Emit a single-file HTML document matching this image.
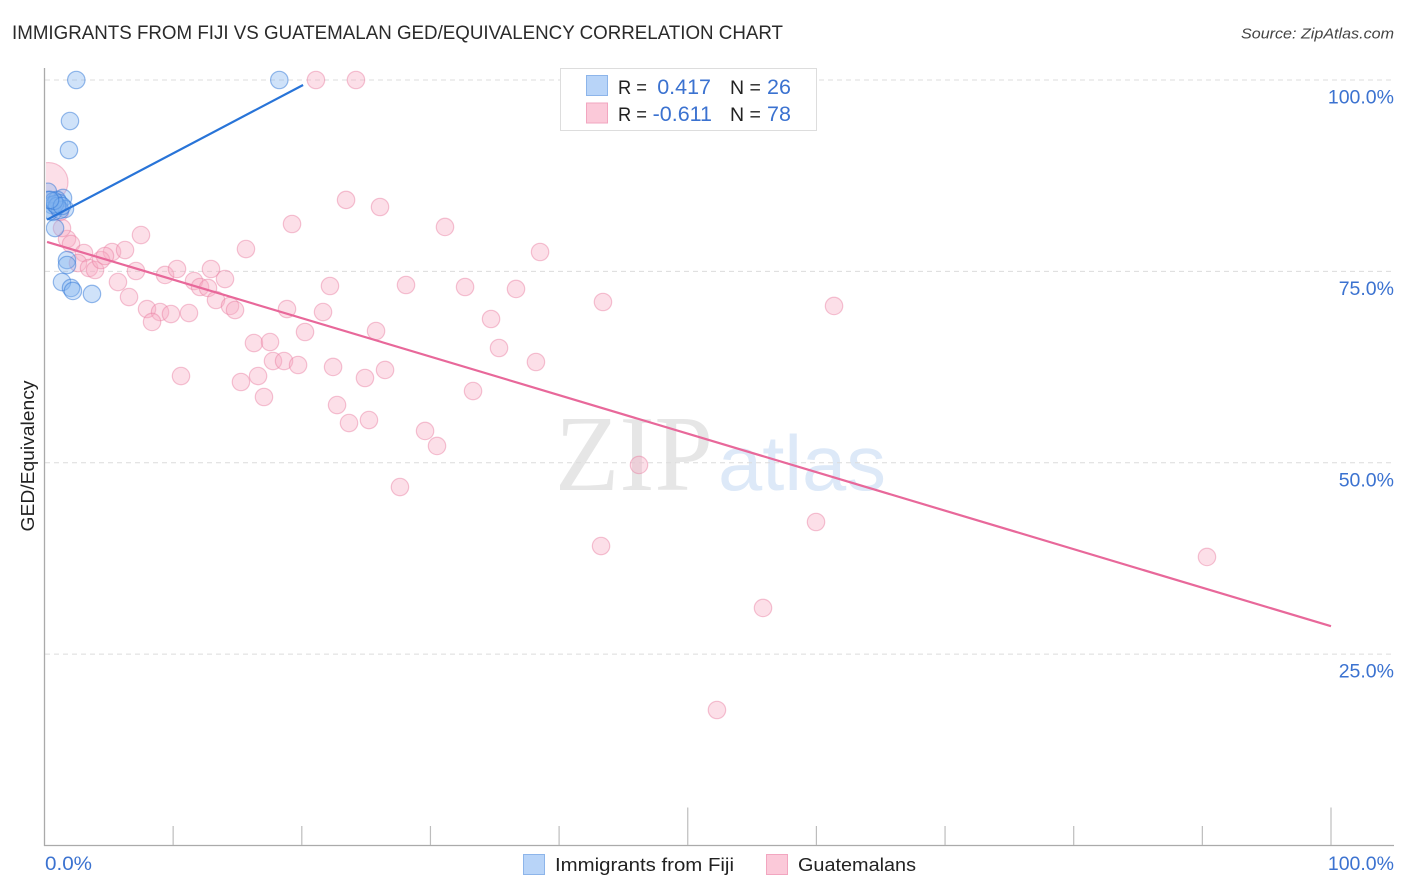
<!DOCTYPE html>
<html lang="en">
<head>
<meta charset="utf-8">
<title>Immigrants from Fiji vs Guatemalan GED/Equivalency Correlation Chart</title>
<style>
html,body{margin:0;padding:0;background:#fff;width:1406px;height:892px;overflow:hidden}
svg{display:block;font-family:"Liberation Sans",sans-serif}
</style>
</head>
<body>
<svg id="chart" xmlns="http://www.w3.org/2000/svg" width="1406" height="892" viewBox="0 0 1406 892">
  <defs><clipPath id="plot-clip"><rect x="46" y="60" width="1348" height="785"/></clipPath></defs>
  <text x="12" y="39" font-size="19" fill="#2a2a2a" textLength="771" lengthAdjust="spacingAndGlyphs">IMMIGRANTS FROM FIJI VS GUATEMALAN GED/EQUIVALENCY CORRELATION CHART</text>
  <text x="1241" y="38.500" font-size="15" font-style="italic" fill="#444" textLength="153" lengthAdjust="spacingAndGlyphs">Source: ZipAtlas.com</text>
  <g>
    <text x="555" y="490" style="font-family:'Liberation Serif',serif" font-size="108" fill="#e6e6e6" textLength="158" lengthAdjust="spacingAndGlyphs">ZIP</text>
    <text x="718" y="490" style="font-family:'Liberation Sans',sans-serif" font-size="78" fill="#dde9f8" textLength="168" lengthAdjust="spacingAndGlyphs">atlas</text>
  </g>
  <g id="grid"></g>
  <g id="axes"></g>
  <g id="points" clip-path="url(#plot-clip)"></g>
  <g id="trends"></g>
  <text transform="translate(34,456) rotate(-90)" font-size="18" fill="#222" text-anchor="middle" textLength="151" lengthAdjust="spacingAndGlyphs">GED/Equivalency</text>
  <g>
    <rect x="560.500" y="68.500" width="256" height="62" fill="#fff" stroke="#ddd"/>
    <rect x="586.500" y="75.500" width="21" height="20" fill="#b8d4f8" stroke="#8db5ea"/>
    <rect x="586.500" y="103" width="21" height="20" fill="#fbc9d9" stroke="#f2a6c0"/>
    <text x="618" y="94" font-size="19.500" fill="#222" textLength="29" lengthAdjust="spacingAndGlyphs">R =</text>
    <text x="711" y="94" font-size="21.500" fill="#3b72d0" text-anchor="end">0.417</text>
    <text x="730" y="94" font-size="19.500" fill="#222">N =</text>
    <text x="767" y="94" font-size="21.500" fill="#3b72d0">26</text>
    <text x="618" y="121" font-size="19.500" fill="#222" textLength="29" lengthAdjust="spacingAndGlyphs">R =</text>
    <text x="712" y="121" font-size="21.500" fill="#3b72d0" text-anchor="end">-0.611</text>
    <text x="730" y="121" font-size="19.500" fill="#222">N =</text>
    <text x="767" y="121" font-size="21.500" fill="#3b72d0">78</text>
  </g>
  <g>
    <rect x="523.500" y="854.500" width="21" height="20" fill="#b8d4f8" stroke="#8db5ea"/>
    <text x="555" y="871" font-size="18.500" fill="#222" textLength="179" lengthAdjust="spacingAndGlyphs">Immigrants from Fiji</text>
    <rect x="766.500" y="854.500" width="21" height="20" fill="#fbc9d9" stroke="#f2a6c0"/>
    <text x="798" y="871" font-size="18.500" fill="#222" textLength="118" lengthAdjust="spacingAndGlyphs">Guatemalans</text>
  </g>
</svg>
<script>
const yTicks = [100, 75, 50, 25];
const yTickLabels = ["100.0%", "75.0%", "50.0%", "25.0%"];
const xTicks = [0, 10, 20, 30, 40, 50, 60, 70, 80, 90, 100];
const xMajorTicks = [50, 100];
const xEndLabels = ["0.0%", "100.0%"];

const fijiX = [2.47,18.25,1.98,1.90,0.27,1.44,0.27,0.98,0.58,1.13,1.59,0.66,0.82,1.75,1.75,1.36,2.06,2.21,3.69,0.43,1.20,0.82,0.98,0.74,1.36,0.43];
const fijiY = [100,100,94.64,90.85,85.4,84.59,84.33,84.33,83.67,83.93,83.15,82.76,80.66,76.48,75.83,73.61,72.83,72.44,72.05,82.89,83.02,83.80,83.54,84.2,83.54,84.33];
const fijiR = [8.7,8.7,8.7,8.7,8.7,8.7,8.7,8.7,8.7,8.7,8.7,8.7,8.7,8.7,8.7,8.7,8.7,8.7,8.7,8.7,8.7,8.7,8.7,8.7,8.7,8.7];

const guatX = [21.10,24.21,0.31,23.44,26.08,19.24,31.13,38.52,15.66,7.50,1.75,2.06,3.07,5.25,6.26,2.60,3.46,3.93,4.39,4.70,7.11,9.37,10.30,12.94,14.03,11.62,12.09,12.71,5.71,6.57,7.97,8.98,9.83,11.23,8.36,13.33,14.42,14.81,18.85,21.65,22.19,28.10,32.69,36.65,43.41,61.37,34.71,25.77,20.25,16.28,17.53,35.33,38.20,17.76,18.62,19.71,22.43,26.47,24.91,10.61,16.60,15.27,17.06,33.31,22.74,23.67,25.22,29.58,30.51,27.63,46.21,59.97,43.26,90.36,55.85,52.27,1.36,1.20];
const guatY = [100,100,86.67,84.33,83.41,81.19,80.80,77.53,77.92,79.75,79.23,78.58,77.40,77.53,77.79,76.09,75.44,75.18,76.48,77.01,75.05,74.53,75.31,75.31,74.00,73.74,72.96,72.83,73.61,71.65,70.08,69.69,69.43,69.56,68.39,71.26,70.48,69.95,70.08,69.69,73.09,73.22,72.96,72.70,71.00,70.48,68.78,67.21,67.08,65.64,65.77,64.99,63.16,63.29,63.29,62.77,62.51,62.12,61.07,61.33,61.33,60.55,58.59,59.37,57.54,55.19,55.58,54.15,52.19,46.83,49.71,42.26,39.12,37.69,31.03,17.70,80.66,82.76];
const guatR = [8.7,8.7,19.5,8.7,8.7,8.7,8.7,8.7,8.7,8.7,8.7,8.7,8.7,8.7,8.7,8.7,8.7,8.7,8.7,8.7,8.7,8.7,8.7,8.7,8.7,8.7,8.7,8.7,8.7,8.7,8.7,8.7,8.7,8.7,8.7,8.7,8.7,8.7,8.7,8.7,8.7,8.7,8.7,8.7,8.7,8.7,8.7,8.7,8.7,8.7,8.7,8.7,8.7,8.7,8.7,8.7,8.7,8.7,8.7,8.7,8.7,8.7,8.7,8.7,8.7,8.7,8.7,8.7,8.7,8.7,8.7,8.7,8.7,8.7,8.7,8.7,8.7,8.7];

const fijiTrendX = [0.2, 20.1];
const fijiTrendY = [81.75, 99.35];
const guatTrendX = [0.2, 100];
const guatTrendY = [78.85, 28.65];

const NS = "http://www.w3.org/2000/svg";
const xScale = v => 44.5 + v * 12.865;
const yScale = v => 845.5 - v * 7.655;

function make(tag, attrs, parent) {
  const el = document.createElementNS(NS, tag);
  for (const k in attrs) el.setAttribute(k, attrs[k]);
  parent.appendChild(el);
  return el;
}

const grid = document.getElementById("grid");
const axes = document.getElementById("axes");
const pts = document.getElementById("points");
const trends = document.getElementById("trends");

yTicks.forEach((t, i) => {
  const line = make("line", {x1: 45, x2: 1394, y1: yScale(t), y2: yScale(t), stroke: "#dcdcdc", "stroke-width": 1, "stroke-dasharray": "5 4"}, grid);
  
  
  const lab = make("text", {x: 1394, y: yScale(t) + 23.5, "font-size": 19.5, fill: "#3b72d0", "text-anchor": "end"}, axes);
  
  
  lab.textContent = yTickLabels[i];
});

const yAxis = make("line", {x1: 44.5, x2: 44.5, y1: 68, y2: 846, stroke: "#aaa", "stroke-width": 1.3}, axes);


const xAxis = make("line", {x1: 44, x2: 1394, y1: 845.5, y2: 845.5, stroke: "#aaa", "stroke-width": 1.3}, axes);



xTicks.slice(1).forEach(t => {
  const top = xMajorTicks.includes(t) ? 807.5 : 826;
  const tick = make("line", {x1: xScale(t), x2: xScale(t), y1: top, y2: 845, stroke: "#bdbdbd", "stroke-width": 1.2}, axes);
  
  
});

const xLabL = make("text", {x: 45, y: 870, "font-size": 19.5, fill: "#3b72d0", textLength: 47, lengthAdjust: "spacingAndGlyphs"}, axes);


xLabL.textContent = xEndLabels[0];
const xLabR = make("text", {x: 1394, y: 870, "font-size": 19.5, fill: "#3b72d0", "text-anchor": "end"}, axes);


xLabR.textContent = xEndLabels[1];

guatX.forEach((v, i) => {
  const c = make("circle", {cx: xScale(v), cy: yScale(guatY[i]), r: guatR[i], fill: "rgba(248,170,195,0.38)", stroke: "rgba(232,125,160,0.45)", "stroke-width": 1.2}, pts);
  
  
});
fijiX.forEach((v, i) => {
  const c = make("circle", {cx: xScale(v), cy: yScale(fijiY[i]), r: fijiR[i], fill: "rgba(130,180,240,0.38)", stroke: "rgba(50,120,215,0.5)", "stroke-width": 1.2}, pts);
  
  
});

const fijiLine = make("line", {x1: xScale(fijiTrendX[0]), y1: yScale(fijiTrendY[0]), x2: xScale(fijiTrendX[1]), y2: yScale(fijiTrendY[1]), stroke: "#2874d8", "stroke-width": 2.2}, trends);


const guatLine = make("line", {x1: xScale(guatTrendX[0]), y1: yScale(guatTrendY[0]), x2: xScale(guatTrendX[1]), y2: yScale(guatTrendY[1]), stroke: "#e8689a", "stroke-width": 2.2}, trends);


</script>
</body>
</html>
